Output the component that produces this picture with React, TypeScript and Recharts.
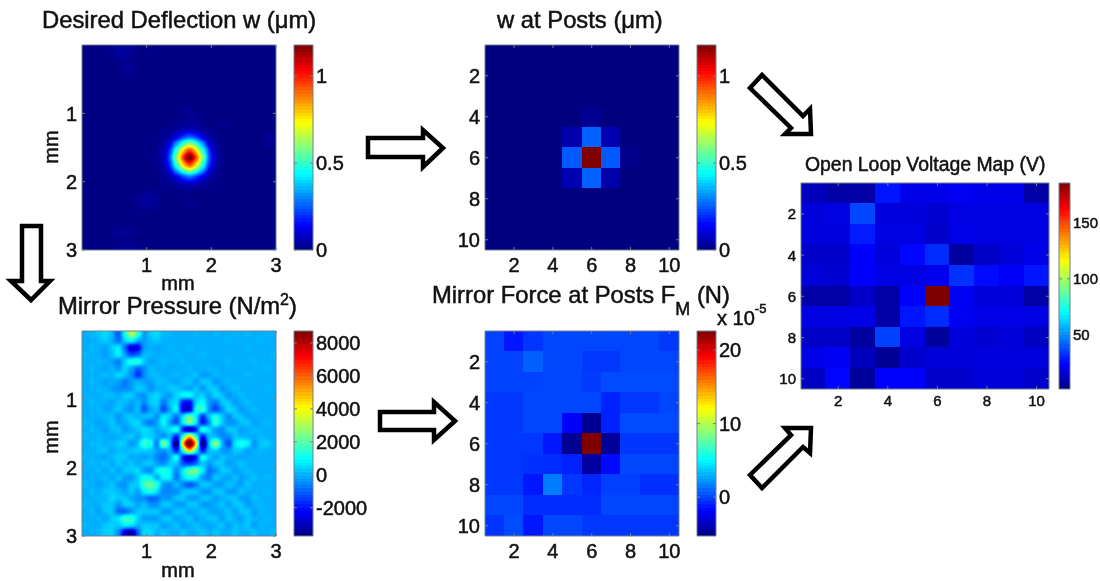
import React from 'react';
import { ScatterChart, Scatter, XAxis, YAxis, ReferenceArea } from 'recharts';

const FONT = '"Liberation Sans", Arial, sans-serif';
const INK = '#111111';
const FRAME = '#6f7f8f';

// Desired deflection w, hundredths of a micron, 30 x 30 cells over 0..3 mm
const deflectionGrid: number[][] = [
  [1,1,1,1,2,3,3,2,1,1,1,1,1,1,1,1,1,1,1,1,1,1,1,1,1,1,1,1,1,1],
  [1,1,1,1,2,4,4,3,1,1,2,1,1,1,1,1,1,1,1,1,1,1,1,1,1,1,1,1,1,1],
  [1,1,1,1,1,2,2,1,1,1,1,1,1,1,1,1,1,1,1,1,1,1,1,1,1,1,1,1,1,1],
  [1,1,1,1,1,1,3,3,1,1,1,1,1,1,1,1,1,1,1,1,1,1,1,1,1,1,1,1,1,1],
  [1,1,1,1,1,1,2,2,1,1,1,1,1,1,1,1,1,1,1,1,1,1,1,1,1,1,1,1,1,1],
  [1,1,1,1,1,1,1,1,1,1,1,1,1,1,1,1,1,1,1,1,1,1,1,1,1,1,1,1,1,1],
  [1,1,1,1,1,1,1,1,1,1,1,1,1,1,1,1,1,1,1,1,1,1,1,1,1,1,1,1,1,1],
  [1,1,1,1,1,1,1,1,1,1,1,1,1,1,1,1,1,1,1,1,1,1,1,1,1,1,1,1,1,1],
  [1,1,1,1,1,1,1,1,1,1,1,1,1,1,1,1,1,1,1,1,1,1,1,1,1,1,1,1,1,1],
  [1,1,1,1,1,1,1,1,1,1,1,1,1,1,1,2,2,1,1,1,1,1,1,1,1,1,1,1,1,1],
  [1,1,1,1,1,1,1,1,1,1,1,1,1,1,1,2,2,2,1,1,1,1,1,1,1,1,1,1,1,1],
  [1,1,1,1,1,1,1,1,1,1,1,1,1,1,2,2,3,3,2,1,1,2,2,1,1,1,1,1,1,1],
  [1,1,1,1,1,1,1,1,1,1,1,1,2,2,3,5,6,5,3,2,1,1,1,1,1,1,1,1,1,1],
  [1,1,1,1,1,1,1,1,1,1,1,1,2,4,10,20,25,20,10,4,2,1,1,1,1,1,1,1,3,2],
  [1,1,1,1,1,1,1,1,1,1,1,2,3,10,33,50,62,50,33,10,3,1,1,1,1,1,1,1,3,2],
  [1,1,1,1,1,1,1,1,1,1,1,2,5,20,50,80,98,80,50,20,5,1,1,1,1,1,1,1,1,1],
  [1,1,1,1,1,1,1,1,1,1,2,2,6,25,62,98,128,98,62,25,6,2,1,1,1,1,1,1,1,1],
  [1,1,1,1,1,1,1,1,1,1,1,2,5,20,50,80,98,80,50,20,5,2,1,1,1,1,1,1,1,1],
  [1,1,1,1,1,1,1,1,1,1,1,1,3,10,33,50,62,50,33,10,3,1,1,1,1,1,1,1,1,1],
  [1,1,1,1,1,1,1,1,1,1,1,1,2,4,10,20,25,20,10,4,2,1,1,1,1,1,1,1,1,1],
  [1,1,1,1,1,1,1,1,1,1,1,1,2,2,3,5,6,5,3,2,1,1,1,1,1,1,1,1,1,1],
  [1,1,1,1,1,1,1,1,1,2,2,1,1,1,1,1,2,1,1,1,1,1,1,1,1,1,1,1,1,1],
  [1,1,1,1,1,1,1,1,2,3,4,3,1,1,1,1,1,1,1,1,1,1,1,1,1,1,1,1,1,1],
  [1,1,1,1,1,1,1,1,2,3,3,2,1,1,1,1,2,2,1,1,1,1,1,1,1,1,1,1,1,1],
  [1,1,1,1,1,1,1,1,1,1,1,1,1,1,1,1,1,1,1,1,1,1,1,1,1,1,1,1,1,1],
  [1,1,1,1,1,1,1,1,1,1,1,1,1,1,1,1,1,1,1,1,1,1,1,1,1,1,1,1,1,1],
  [1,1,1,1,1,1,1,1,1,1,1,1,1,1,1,1,1,1,1,1,1,1,1,1,1,1,1,1,1,1],
  [1,1,1,1,2,3,3,2,1,1,1,1,1,1,1,1,1,1,1,1,1,1,1,1,1,1,1,1,1,1],
  [1,1,1,1,1,1,1,1,1,1,1,1,1,1,1,1,1,1,1,1,1,1,1,1,1,1,1,1,1,1],
  [1,1,1,1,1,2,3,3,2,1,1,1,1,1,1,1,1,1,1,1,1,1,1,1,1,1,1,1,1,1],
];

// Mirror pressure, hundreds of N/m^2, 30 x 30 cells over 0..3 mm
const pressureGrid: number[][] = [
  [0,1,3,6,1,-12,14,34,18,-4,4,6,1,1,0,0,0,1,0,0,1,0,0,1,0,1,0,0,1,0],
  [0,0,1,4,0,-10,5,12,0,-3,1,4,0,0,0,0,0,0,0,0,0,0,1,0,0,0,0,1,0,0],
  [0,1,0,-2,4,9,-10,-30,-26,-2,0,-2,0,1,0,0,1,0,0,0,0,0,0,0,0,1,0,0,0,0],
  [1,0,0,-2,2,10,-3,-14,-10,2,1,0,0,0,1,0,0,0,1,0,0,0,0,0,0,0,0,0,0,1],
  [0,0,1,0,-2,-7,5,16,18,4,-2,0,1,0,0,1,0,0,0,0,-1,0,1,0,0,0,1,0,0,0],
  [0,1,0,-2,2,-4,6,-3,-11,-5,2,0,0,-1,0,0,1,-1,0,1,0,-1,0,0,0,0,0,0,1,0],
  [0,0,0,2,0,7,3,-5,-20,-5,2,2,0,0,2,0,0,4,-4,-2,2,0,0,0,0,1,0,0,0,0],
  [0,1,0,-2,0,-2,-7,-2,2,-2,-2,2,2,0,-2,2,4,-4,4,3,-4,0,1,0,0,0,0,0,0,0],
  [0,0,1,0,-2,-4,-6,-2,4,3,-4,0,0,4,3,0,-3,4,-4,4,4,-4,0,2,0,0,0,0,1,0],
  [0,0,0,2,2,0,4,4,-3,-4,3,6,0,-4,5,11,13,2,5,-4,6,3,-4,0,2,0,0,0,0,0],
  [0,1,0,0,-2,2,2,-2,2,-6,4,5,-8,3,6,-22,-25,6,11,-2,-8,4,4,-4,0,2,0,0,0,0],
  [0,0,2,-2,0,4,-2,-4,4,-14,-2,4,-15,0,12,-30,-30,14,20,-5,-15,-5,6,3,-4,0,2,0,0,0],
  [0,0,0,2,2,-4,2,4,-2,4,4,-6,8,5,-9,8,26,9,-18,4,14,3,-6,4,3,-3,0,0,0,0],
  [1,0,-2,0,4,-2,0,3,6,-4,-8,-2,11,-4,-14,10,30,10,-24,-6,18,4,-4,-4,3,3,-3,0,1,0],
  [0,1,0,-2,2,3,-4,0,3,6,4,-2,3,6,20,-22,-42,-22,20,7,-4,-6,4,3,-3,0,2,0,0,0],
  [1,0,1,0,-2,0,2,4,-3,5,3,0,-6,3,-22,14,52,14,-22,3,0,-5,-5,3,0,0,0,1,0,0],
  [0,1,2,0,2,4,3,-4,2,20,14,-13,32,3,-48,52,112,52,-48,3,34,1,-15,8,15,11,-6,3,5,0],
  [0,0,2,3,-2,2,0,3,4,4,3,-2,-5,2,-22,14,52,14,-22,2,3,-3,-3,3,3,-3,0,1,0,0],
  [1,0,0,-2,2,3,4,-2,0,-4,0,-6,-10,-2,18,-22,-40,-24,18,3,-3,3,0,0,-3,0,0,0,0,0],
  [0,1,0,3,-2,4,0,4,-3,3,4,-3,-6,4,3,-13,-16,-10,3,-4,3,3,-3,0,3,0,0,0,0,0],
  [0,0,2,-2,3,-2,3,3,6,-4,-6,10,15,9,-6,9,24,28,9,-9,-4,4,3,-3,0,2,0,0,0,0],
  [0,0,0,2,-2,3,-2,-3,3,13,10,-4,10,10,-9,6,14,10,-4,-7,4,0,-3,3,-3,0,3,0,1,0],
  [1,0,-2,0,4,-3,-4,3,4,18,24,16,-4,-6,3,-7,-13,-7,4,4,-3,-3,3,0,-3,3,0,0,0,0],
  [0,1,0,3,3,2,-3,4,-3,9,14,6,-6,-4,-6,3,4,4,-3,-4,3,3,-3,-3,3,0,0,0,1,0],
  [0,0,2,0,6,3,4,-2,-4,-6,-12,-10,-3,-4,4,4,-3,-4,3,3,-3,0,3,3,-3,-3,3,0,0,0],
  [1,0,0,3,3,-4,5,4,-3,3,-4,-4,3,3,-3,-3,3,3,-3,-3,0,3,-3,3,3,-3,0,1,0,0],
  [0,1,-2,3,3,-9,-11,-4,4,3,3,3,-3,-3,3,3,-3,0,3,0,-3,0,3,-3,3,3,-3,1,0,0],
  [0,0,1,-2,4,7,20,18,3,-3,-3,-3,3,3,-3,0,3,-3,0,3,3,-3,3,0,-3,3,0,0,1,0],
  [1,-1,0,3,4,3,9,7,0,4,3,3,-3,0,3,-3,0,3,0,-3,0,3,-3,3,0,3,-3,1,0,0],
  [0,0,1,4,5,-4,-32,-38,-10,6,5,0,3,0,0,3,0,0,3,0,3,0,0,3,0,0,3,0,0,1],
];

// w at posts, microns
const postsW: number[][] = [
  [0,0,0,0,0,0,0,0,0,0],
  [0,0,0,0,0,0,0,0,0,0],
  [0,0,0,0,0,0,0,0,0,0],
  [0,0,0,0,0,0.02,0,0,0,0],
  [0,0,0,0,0.05,0.26,0.06,0,0,0],
  [0,0,0,0,0.25,1.18,0.25,0.015,0,0],
  [0,0,0,0,0.06,0.26,0.05,0,0,0],
  [0,0,0,0,0,0,0,0,0,0],
  [0,0,0,0,0,0,0,0,0,0],
  [0,0,0,0,0,0,0,0,0,0],
];

// Mirror force at posts, units of 1e-5 N
const postsF: number[][] = [
  [0,-1.2,-0.4,0.1,0.1,0.1,0.1,0.1,0.1,-0.3],
  [0,0,0.8,0.1,0.1,-0.3,-0.3,0.1,0.1,0.1],
  [0,0,0,0.1,0.1,-0.2,0.2,0.2,0.2,0.2],
  [-0.3,-0.3,0.1,0.1,0.1,0.1,-0.9,-0.3,-0.3,0.1],
  [-0.3,-0.3,0.1,0.1,-1.8,-4.8,-0.9,0.2,0.2,0.2],
  [-0.3,-0.3,-0.3,-1.2,-4.8,22.6,-4.6,-0.4,-0.4,-0.4],
  [-0.3,-0.3,-0.5,-0.6,-0.9,-4.4,-1.6,0.1,0.1,0.1],
  [-0.3,-0.3,-1.2,1.6,-0.3,-0.8,-0.1,-0.1,-0.5,-0.5],
  [0.1,0.1,-0.6,-0.6,-0.6,-0.6,0.1,0.1,0.1,0.1],
  [-0.4,0.2,-1.2,0.1,0.1,-0.3,-0.3,-0.3,-0.3,-0.3],
];

// Open loop voltage map, volts
const voltage: number[][] = [
  [12,8,8,28,20,20,22,20,20,8],
  [18,19,37,18,18,16,19,19,19,19],
  [18,18,29,19,19,15,20,19,19,19],
  [15,15,24,18,25,32,7,14,17,20],
  [17,16,24,19,19,21,33,26,23,28],
  [8,8,14,8,24,186,22,17,17,8],
  [19,19,20,8,28,32,22,20,20,19],
  [14,14,7,36,19,6,18,16,17,13],
  [20,22,12,5,15,17,17,18,18,18],
  [13,25,6,24,24,15,15,17,17,15],
];

const mmTicks = [1, 2, 3];
const postTicks = [2, 4, 6, 8, 10];

type Box = { x: number; y: number; w: number; h: number };

const jet = (t: number) => {
  const c = (v: number) => Math.max(0, Math.min(1, v));
  const tt = c(t);
  return [c(1.5 - Math.abs(4 * tt - 3)), c(1.5 - Math.abs(4 * tt - 2)), c(1.5 - Math.abs(4 * tt - 1))];
};
const jetCss = (t: number) => {
  const [r, g, b] = jet(t);
  return `rgb(${Math.round(r * 255)},${Math.round(g * 255)},${Math.round(b * 255)})`;
};

const toCells = (grid: number[][], cellX: number, cellY: number, x0: number, y0: number) =>
  grid.flatMap((row, r) => row.map((v, c) => ({ x: x0 + (c + 0.5) * cellX, y: y0 + (r + 0.5) * cellY, v })));

const Layer = ({ box, children, style }: any) => (
  <div style={{ position: 'absolute', left: box.x, top: box.y, width: box.w, height: box.h, overflow: 'hidden' }}>
    <div style={{ width: box.w, height: box.h, ...style }}>{children}</div>
  </div>
);

const HeatCells = ({ box, cells, nx, ny, xDomain, yDomain, fillOf, reversed = true }: any) => {
  const cw = box.w / nx;
  const ch = box.h / ny;
  return (
    <ScatterChart width={box.w} height={box.h} margin={{ top: 0, right: 0, bottom: 0, left: 0 }}>
      <XAxis type="number" dataKey="x" domain={xDomain} hide allowDataOverflow />
      <YAxis type="number" dataKey="y" domain={yDomain} hide reversed={reversed} allowDataOverflow />
      <Scatter
        data={cells}
        isAnimationActive={false}
        shape={(p: any) => (
          <rect
            x={p.cx - cw / 2 - 0.5}
            y={p.cy - ch / 2 - 0.5}
            width={cw + 1}
            height={ch + 1}
            fill={fillOf(p.payload.v)}
            shapeRendering="crispEdges"
          />
        )}
      />
    </ScatterChart>
  );
};

const Label = ({ x, y, children, size, anchor = 'middle', weight = 0.5 }: any) => (
  <text x={x} y={y} fontFamily={FONT} fontSize={size} fill={INK} stroke={INK} strokeWidth={weight} textAnchor={anchor}>
    {children}
  </text>
);

const Frame = ({ box, xDomain, yDomain, xTicks, yTicks, size, reversed = true, pad = 5, colorbar = false, yFmt }: any) => {
  const xTick = (p: any) => (
    <g>
      <line x1={p.x} x2={p.x} y1={box.y + box.h} y2={box.y + box.h - 3} stroke={FRAME} />
      <line x1={p.x} x2={p.x} y1={box.y} y2={box.y + 3} stroke={FRAME} />
      <Label x={p.x} y={box.y + box.h + Math.round(size * 1.1)} size={size}>{p.payload.value}</Label>
    </g>
  );
  const yTick = (p: any) => (
    <g>
      <line x1={box.x} x2={box.x + 3} y1={p.y} y2={p.y} stroke={FRAME} />
      <line x1={box.x + box.w} x2={box.x + box.w - 3} y1={p.y} y2={p.y} stroke={FRAME} />
      {colorbar ? (
        <Label x={box.x + box.w + 3} y={p.y + size * 0.36} size={size} anchor="start">{yFmt ? yFmt(p.payload.value) : p.payload.value}</Label>
      ) : (
        <Label x={box.x - pad} y={p.y + size * 0.36} size={size} anchor="end">{p.payload.value}</Label>
      )}
    </g>
  );
  return (
    <div style={{ position: 'absolute', left: 0, top: 0 }}>
      <ScatterChart
        width={1100}
        height={581}
        margin={{ top: box.y, left: box.x - 1, right: 1100 - box.x - box.w, bottom: 581 - box.y - box.h - 1 }}
      >
        <XAxis
          type="number"
          dataKey="x"
          domain={xDomain}
          ticks={xTicks}
          height={1}
          tick={xTicks.length ? xTick : false}
          tickLine={false}
          axisLine={false}
          interval={0}
          allowDataOverflow
        />
        <YAxis
          type="number"
          dataKey="y"
          domain={yDomain}
          ticks={yTicks}
          width={1}
          reversed={reversed}
          tick={yTick}
          tickLine={false}
          axisLine={false}
          interval={0}
          allowDataOverflow
        />
        <ReferenceArea
          x1={xDomain[0]}
          x2={xDomain[1]}
          y1={yDomain[0]}
          y2={yDomain[1]}
          fill="none"
          stroke={FRAME}
          strokeWidth={1}
          fillOpacity={0}
          ifOverflow="visible"
        />
      </ScatterChart>
    </div>
  );
};

const colorLevels = (lo: number, hi: number) =>
  Array.from({ length: 64 }, (_, i) => ({ x: 0.5, y: lo + ((i + 0.5) / 64) * (hi - lo), v: (i + 0.5) / 64 }));

const ColorBar = ({ box, lo, hi, ticks, size, fmt }: any) => (
  <>
    <Layer box={box}>
      <HeatCells box={box} cells={colorLevels(lo, hi)} nx={1} ny={64} xDomain={[0, 1]} yDomain={[lo, hi]} fillOf={(v: number) => jetCss(v)} reversed={false} />
    </Layer>
    <Frame box={box} xDomain={[0, 1]} yDomain={[lo, hi]} xTicks={[]} yTicks={ticks} size={size} reversed={false} colorbar yFmt={fmt} />
  </>
);

const tableFor = (lo: number, hi: number, min: number, max: number) => {
  const N = 161;
  const rows = Array.from({ length: N }, (_, i) => jet((lo + ((hi - lo) * i) / (N - 1) - min) / (max - min)));
  return [0, 1, 2].map((k) => rows.map((r) => r[k].toFixed(4)).join(' '));
};

const SmoothFilter = ({ id, lo, hi, min, max, blur }: any) => {
  const [r, g, b] = tableFor(lo, hi, min, max);
  return (
    <filter id={id} x="-5%" y="-5%" width="110%" height="110%" colorInterpolationFilters="sRGB">
      <feGaussianBlur stdDeviation={blur} />
      <feComponentTransfer>
        <feFuncR type="table" tableValues={r} />
        <feFuncG type="table" tableValues={g} />
        <feFuncB type="table" tableValues={b} />
        <feFuncA type="linear" slope={50} />
      </feComponentTransfer>
    </filter>
  );
};

const gray = (lo: number, hi: number) => (v: number) => {
  const g = Math.round((Math.max(0, Math.min(1, (v - lo) / (hi - lo)))) * 255);
  return `rgb(${g},${g},${g})`;
};

const P1: Box = { x: 82, y: 45, w: 194, h: 205 };
const P2: Box = { x: 82, y: 331, w: 194, h: 205 };
const P3: Box = { x: 485, y: 45, w: 194, h: 205 };
const P4: Box = { x: 485, y: 331, w: 194, h: 205 };
const P5: Box = { x: 801, y: 183, w: 248, h: 206 };
const C1: Box = { x: 294, y: 45, w: 19, h: 205 };
const C2: Box = { x: 294, y: 331, w: 19, h: 205 };
const C3: Box = { x: 697, y: 45, w: 19, h: 205 };
const C4: Box = { x: 697, y: 331, w: 19, h: 205 };
const C5: Box = { x: 1059, y: 183, w: 11, h: 206 };

const arrows: number[][][] = [
  [[22,226],[41,226],[41,281],[50,281],[31,300],[11,281],[22,281]],
  [[368,138],[423,138],[423,130],[443,148],[423,167],[423,157],[368,157]],
  [[380,412],[434,412],[434,402],[455,421],[434,440],[434,430],[380,430]],
  [[750,88],[762,75],[803,116],[810,109],[811,134],[785,134],[791,128]],
  [[750,475],[762,488],[803,447],[810,453],[811,428],[785,428],[791,435]],
];

export default function App() {
  const mmDom = [0, 3];
  const postDom = [0.5, 10.5];
  return (
    <div style={{ position: 'absolute', left: 0, top: 0, width: 1100, height: 581, background: '#fff', overflow: 'hidden', filter: 'blur(0.5px)' }}>
      <svg width={0} height={0} style={{ position: 'absolute' }}>
        <defs>
          <SmoothFilter id="smoothW" lo={-20} hi={140} min={0} max={118} blur={2} />
          <SmoothFilter id="smoothP" lo={-50} hi={115} min={-37.2} max={87.3} blur={2} />
        </defs>
      </svg>

      <Layer box={P1} style={{ filter: 'url(#smoothW)' }}>
        <HeatCells box={P1} cells={toCells(deflectionGrid, 0.1, 0.1, 0.02, 0)} nx={30} ny={30} xDomain={mmDom} yDomain={mmDom} fillOf={gray(-20, 140)} />
      </Layer>
      <Layer box={P2} style={{ filter: 'url(#smoothP)' }}>
        <HeatCells box={P2} cells={toCells(pressureGrid, 0.1, 0.1, 0.02, 0)} nx={30} ny={30} xDomain={mmDom} yDomain={mmDom} fillOf={gray(-50, 115)} />
      </Layer>
      <Layer box={P3}>
        <HeatCells box={P3} cells={toCells(postsW, 1, 1, 0.5, 0.5)} nx={10} ny={10} xDomain={postDom} yDomain={postDom} fillOf={(v: number) => jetCss(v / 1.18)} />
      </Layer>
      <Layer box={P4}>
        <HeatCells box={P4} cells={toCells(postsF, 1, 1, 0.5, 0.5)} nx={10} ny={10} xDomain={postDom} yDomain={postDom} fillOf={(v: number) => jetCss((v + 5.3) / 27.9)} />
      </Layer>
      <Layer box={P5}>
        <HeatCells box={P5} cells={toCells(voltage, 1, 1, 0.5, 0.5)} nx={10} ny={10} xDomain={postDom} yDomain={postDom} fillOf={(v: number) => jetCss((v - 1) / 185)} />
      </Layer>

      <Frame box={P1} xDomain={mmDom} yDomain={mmDom} xTicks={mmTicks} yTicks={mmTicks} size={20} />
      <Frame box={P2} xDomain={mmDom} yDomain={mmDom} xTicks={mmTicks} yTicks={mmTicks} size={20} />
      <Frame box={P3} xDomain={postDom} yDomain={postDom} xTicks={postTicks} yTicks={postTicks} size={20} />
      <Frame box={P4} xDomain={postDom} yDomain={postDom} xTicks={postTicks} yTicks={postTicks} size={20} />
      <Frame box={P5} xDomain={postDom} yDomain={postDom} xTicks={postTicks} yTicks={postTicks} size={15} pad={5} />

      <ColorBar box={C1} lo={0} hi={1.18} ticks={[0, 0.5, 1]} size={20} />
      <ColorBar box={C2} lo={-3720} hi={8730} ticks={[-2000, 0, 2000, 4000, 6000, 8000]} size={20} />
      <ColorBar box={C3} lo={0} hi={1.18} ticks={[0, 0.5, 1]} size={20} />
      <ColorBar box={C4} lo={-5.3} hi={22.6} ticks={[0, 10, 20]} size={20} />
      <ColorBar box={C5} lo={1} hi={186} ticks={[50, 100, 150]} size={15} />

      <svg width={1100} height={581} style={{ position: 'absolute', left: 0, top: 0 }}>
        <Label x={42} y={28} size={23.8} anchor="start">Desired Deflection w (μm)</Label>
        <Label x={58} y={314} size={23.8} anchor="start">
          Mirror Pressure (N/m<tspan dy={-9} fontSize={16}>2</tspan><tspan dy={9}>)</tspan>
        </Label>
        <Label x={497} y={28} size={23.8} anchor="start">w at Posts (μm)</Label>
        <Label x={432} y={303} size={23.8} anchor="start">
          Mirror Force at Posts F<tspan dy={12} fontSize={18}>M</tspan><tspan dy={-12}> (N)</tspan>
        </Label>
        <Label x={717} y={325} size={20} anchor="start">
          x 10<tspan dy={-12} fontSize={13}>-5</tspan>
        </Label>
        <Label x={805} y={171} size={19.4} anchor="start">Open Loop Voltage Map (V)</Label>
        <Label x={178} y={290} size={20}>mm</Label>
        <Label x={178} y={577} size={20}>mm</Label>
        <g transform="translate(58,147) rotate(-90)"><Label x={0} y={0} size={20}>mm</Label></g>
        <g transform="translate(58,437) rotate(-90)"><Label x={0} y={0} size={20}>mm</Label></g>
        {arrows.map((pts, i) => (
          <polygon key={i} points={pts.map((p) => p.join(',')).join(' ')} fill="#fff" stroke="#000" strokeWidth={4.5} strokeLinejoin="miter" />
        ))}
      </svg>
    </div>
  );
}
